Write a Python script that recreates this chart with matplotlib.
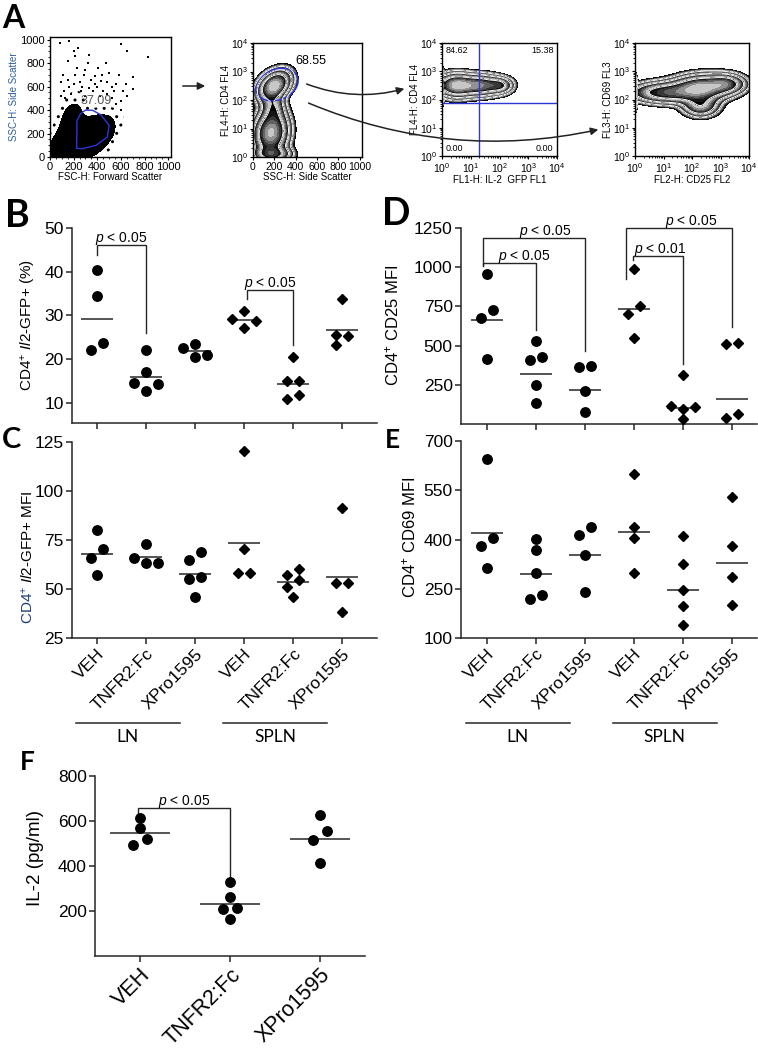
import numpy as np
import matplotlib
matplotlib.use("Agg")
import matplotlib.pyplot as plt
from matplotlib.patches import FancyArrowPatch, Polygon, Ellipse
from matplotlib.lines import Line2D
import matplotlib.ticker as mticker

plt.rcParams['font.family'] = ['Liberation Sans', 'DejaVu Sans']
plt.rcParams['mathtext.fontset'] = 'custom'
plt.rcParams['mathtext.rm'] = 'Liberation Sans'
plt.rcParams['mathtext.it'] = 'Liberation Sans:italic'
plt.rcParams['mathtext.bf'] = 'Liberation Sans:bold'
plt.rcParams['hatch.color'] = 'black'
plt.rcParams['hatch.linewidth'] = 1.0

# ---------------- data ----------------
groups = ["VEH", "TNFR2:Fc", "XPro1595", "VEH", "TNFR2:Fc", "XPro1595"]
group_marker = ["o", "o", "o", "D", "D", "D"]
tissues = ["LN", "SPLN"]

il2_gfp_pct = [[40.4, 34.4, 23.6, 22.0], [22.1, 17.1, 14.6, 14.3, 12.7],
               [23.4, 22.5, 21.0, 20.6], [31.1, 29.2, 28.7, 27.1],
               [20.6, 15.1, 15.1, 11.7, 10.8], [33.8, 25.5, 25.3, 23.3]]
il2_gfp_mfi = [[80.1, 70.3, 66.0, 57.1], [73.0, 66.0, 63.5, 63.5],
               [69.0, 65.0, 56.0, 55.0, 46.0], [120.4, 70.3, 58.4, 58.4],
               [60.2, 57.2, 54.6, 51.2, 46.1], [91.2, 53.1, 53.1, 38.1]]
cd25_mfi = [[954, 730, 676, 415], [528, 430, 410, 250, 136],
            [372, 366, 211, 79], [987, 751, 704, 550],
            [312, 115, 109, 94, 34], [518, 511, 62, 40]]
cd69_mfi = [[645, 406, 380, 312], [401, 367, 298, 232, 220],
            [439, 415, 352, 240], [601, 439, 406, 298],
            [410, 324, 245, 197, 139], [530, 380, 286, 200]]
f_groups = ["VEH", "TNFR2:Fc", "XPro1595"]
il2_pgml = [[614, 570, 521, 492], [329, 262, 215, 211, 166], [625, 555, 515, 415]]

# significance annotations: (group a, group b, label)
b_sig = [(0, 1, "$p$ < 0.05"), (3, 4, "$p$ < 0.05")]
d_sig = [(0, 2, "$p$ < 0.05"), (0, 1, "$p$ < 0.05"), (3, 5, "$p$ < 0.05"), (3, 4, "$p$ < 0.01")]
f_sig = [(0, 1, "$p$ < 0.05")]

# flow cytometry panel texts
gate_cd4_pct = "68.55"
lymph_gate_pct = "37.09"
quad_pct = ["84.62", "15.38", "0.00", "0.00"]
# smooth population components (cx, cy, sx, sy, rho, weight)
a1_pops = [(130, 70, 70, 85, 0.3, 1.0), (320, 160, 115, 100, 0.5, 1.0), (180, 300, 70, 120, 0.3, 0.3)]
a1_events = [(85, 975), (160, 985), (200, 900), (215, 860), (330, 870), (600, 965), (650, 900),
             (830, 850), (700, 680), (320, 800), (410, 760), (285, 700), (350, 660), (480, 640),
             (560, 620), (180, 540), (130, 500), (620, 560), (600, 480), (520, 500), (250, 640),
             (160, 600), (400, 600), (450, 560), (700, 580), (90, 640), (110, 700), (230, 760),
             (260, 560), (330, 590), (380, 690), (150, 820), (240, 930), (500, 720), (540, 560),
             (430, 650), (300, 520), (650, 520), (580, 700), (470, 800), (120, 560), (200, 620),
             (270, 600), (360, 560), (420, 520), (480, 540), (560, 450), (600, 400), (90, 520),
             (210, 700), (300, 740), (520, 600), (640, 620), (380, 620), (150, 660), (440, 700)]
a1_gate = [(225, 74), (228, 310), (260, 370), (300, 400), (360, 398), (430, 360), (500, 270),
           (485, 170), (390, 100), (270, 70)]
a2_pops = [(200, 2.5, 80, 0.28, 0.35, 1.0), (170, 0.85, 85, 0.42, 0.1, 0.9),
           (190, 1.75, 60, 0.3, 0.0, 0.3), (180, 0.1, 95, 0.15, 0.0, 0.45)]
a3_pops = [(0.5, 2.5, 0.35, 0.22, 0.0, 1.0), (1.3, 2.5, 0.4, 0.2, 0.0, 0.8),
           (2.0, 2.5, 0.25, 0.16, 0.0, 0.45), (0.02, 2.45, 0.03, 0.28, 0.0, 0.5)]
a4_pops = [(2.3, 2.4, 0.6, 0.25, 0.15, 1.0), (1.0, 2.25, 0.6, 0.2, 0.0, 0.55),
           (3.2, 2.55, 0.35, 0.18, 0.0, 0.5), (0.03, 2.25, 0.03, 0.3, 0.0, 0.4),
           (2.3, 1.8, 0.35, 0.22, 0.0, 0.35)]
quad_x, quad_y = 19.5, 78.0

# ---------------- layout helpers ----------------
W, H = 758, 1050
fig = plt.figure(figsize=(W / 100, H / 100), dpi=100)
INK = '#262626'


def add_ax(box):
    l, t, r, b = box
    return fig.add_axes([l / W, 1 - b / H, (r - l) / W, (b - t) / H])


def fx(px):
    return px / W


def fy(py):
    return 1 - py / H


def swarm(ypx, step, diam):
    ypx = np.asarray(ypx, float)
    order = list(np.argsort(ypx))
    clusters = [[order[0]]]
    for a, b in zip(order[:-1], order[1:]):
        if ypx[b] - ypx[a] < diam:
            clusters[-1].append(b)
        else:
            clusters.append([b])
    offs = np.zeros(len(ypx))
    for cl in clusters:
        placed = []
        for i in cl:
            for k in [0, 1, -1, 2, -2, 3, -3]:
                x = k * step
                if all(np.hypot(x - offs[j], ypx[i] - ypx[j]) >= diam for j in placed):
                    break
            offs[i] = x
            placed.append(i)
        c = (offs[cl].max() + offs[cl].min()) / 2
        offs[cl] -= c
    return offs


def style_dot_axes(ax):
    for s in ['top', 'right']:
        ax.spines[s].set_visible(False)
    for s in ['left', 'bottom']:
        ax.spines[s].set_linewidth(1.1)
        ax.spines[s].set_color(INK)
    ax.tick_params(direction='out', length=4.5, width=1.1, color=INK, labelsize=12.5, pad=1.5)


def dot_panel(box, vals, markers, xlim, ylim, yticks, step=12.0, diam=9.2, ms_o=6.8, ms_d=5.3):
    ax = add_ax(box)
    ax.set_xlim(*xlim)
    ax.set_ylim(*ylim)
    l, t, r, b = box
    ppx = (r - l) / (xlim[1] - xlim[0])
    ppy = (b - t) / (ylim[1] - ylim[0])
    for i, v in enumerate(vals):
        v = np.asarray(v, float)
        offs = swarm(v * ppy, step, diam) / ppx
        m = markers[i]
        ax.plot(i + offs, v, linestyle='none', marker=m, ms=ms_o if m == 'o' else ms_d,
                color='black', mec='black', clip_on=False, zorder=3)
        gm = np.exp(np.log(v).mean())
        ax.plot([i - 0.33, i + 0.33], [gm, gm], color=INK, lw=1.1, solid_capstyle='butt', zorder=2)
    ax.set_yticks(yticks)
    ax.set_xticks(range(len(vals)))
    style_dot_axes(ax)
    ax._ppx = ppx
    ax._ppy = ppy
    return ax


def bracket(ax, a, b, ybar, yl, yr, text, dx_text=0.0, dx_left=0.0, fs=10):
    xa = a + dx_left / ax._ppx
    ax.plot([xa, xa, b, b], [yl, ybar, ybar, yr], color=INK, lw=1.0, clip_on=False,
            solid_joinstyle='miter')
    ax.text((xa + b) / 2 + dx_text / ax._ppx, ybar + 3.0 / ax._ppy, text, ha='center',
            va='baseline', fontsize=fs, clip_on=False)


def tissue_labels(ax, box, xlim, ypx_line, ypx_text):
    l, t, r, b = box
    ppx = (r - l) / (xlim[1] - xlim[0])
    for k, name in enumerate(tissues):
        x0 = l + (3 * k - 0.43 - xlim[0]) * ppx
        x1 = l + (3 * k + 1.69 - xlim[0]) * ppx
        fig.add_artist(Line2D([fx(x0), fx(x1)], [fy(ypx_line), fy(ypx_line)],
                              transform=fig.transFigure, color=INK, lw=1.1))
        fig.text(fx((x0 + x1) / 2), fy(ypx_text), name, ha='center', va='center',
                 fontsize=12.5, family=['Lato', 'DejaVu Sans'])


# ---------------- panels B-F ----------------
B_box = (72, 228, 377, 423)
C_box = (72, 442, 377, 638)
D_box = (461, 228, 757, 424)
E_box = (461, 441, 757, 638)
F_box = (95, 776, 365, 956)
xl_left = (-0.51, 5.71)
xl_right = (-0.53, 5.51)

axB = dot_panel(B_box, il2_gfp_pct, group_marker, xl_left, (5.4, 50), [10, 20, 30, 40, 50])
axB.set_xticklabels([])
bracket(axB, 0, 1, 46.1, 43.8, 25.9, b_sig[0][2])
bracket(axB, 3, 4, 35.8, 33.7, 23.3, b_sig[1][2], dx_left=3)

axC = dot_panel(C_box, il2_gfp_mfi, group_marker, xl_left, (25, 125), [25, 50, 75, 100, 125])
axC.set_xticklabels(groups, rotation=45, ha='right', va='top', rotation_mode='anchor', fontsize=12.5)
tissue_labels(axC, C_box, xl_left, 722.7, 737)

axD = dot_panel(D_box, cd25_mfi, group_marker, xl_right, (0, 1250), [250, 500, 750, 1000, 1250])
axD.set_xticklabels([])
bracket(axD, 0, 2, 1186, 1014, 468, d_sig[0][2], dx_text=11, dx_left=-4)
bracket(axD, 0, 1, 1029, 1005, 597, d_sig[1][2], dx_text=15, dx_left=-4)
bracket(axD, 3, 5, 1250, 924, 618, d_sig[2][2], dx_text=12, dx_left=-8)
bracket(axD, 3, 4, 1072, 1046, 383, d_sig[3][2], dx_text=2, dx_left=-1)

axE = dot_panel(E_box, cd69_mfi, group_marker, xl_right, (100, 700), [100, 250, 400, 550, 700])
axE.set_xticklabels(groups, rotation=45, ha='right', va='top', rotation_mode='anchor', fontsize=12.5)
tissue_labels(axE, E_box, xl_right, 722.7, 737)

axF = dot_panel(F_box, il2_pgml, ["o", "o", "o"], (-0.5, 2.5), (0, 800), [200, 400, 600, 800],
                step=14.0)
axF.set_xticklabels(f_groups, rotation=45, ha='right', va='top', rotation_mode='anchor', fontsize=15.5)
bracket(axF, 0, 1, 659, 633, 344, f_sig[0][2], dx_left=-2)

ylab_fs = 11
fig.text(fx(28), fy(325), r"CD4$^{+}$ $\mathit{Il2}$-GFP+ (%)", rotation=90, ha='center', va='center', fontsize=ylab_fs)
# C label: "CD4+" part in dark blue, rest in black, placed end to end
renderer = fig.canvas.get_renderer()
t_cd4 = fig.text(fx(28), fy(624), r"CD4$^{+}$", rotation=90, ha='left', va='center',
                 rotation_mode='anchor', fontsize=ylab_fs, color='#1f3d7a')
ext = t_cd4.get_window_extent(renderer)
fig.text(fx(28), ext.y1 / H + 3.0 / H, r"$\mathit{Il2}$-GFP+ MFI", rotation=90, ha='left', va='center',
         rotation_mode='anchor', fontsize=ylab_fs)
fig.text(fx(392), fy(325), r"CD4$^{+}$ CD25 MFI", rotation=90, ha='center', va='center', fontsize=12)
fig.text(fx(409), fy(537), r"CD4$^{+}$ CD69 MFI", rotation=90, ha='center', va='center', fontsize=12)
fig.text(fx(36), fy(858), "IL-2 (pg/ml)", rotation=90, ha='center', va='center', fontsize=13.5)

# ---------------- panel A (flow cytometry) ----------------
BLUE = '#2b36d9'


def density(GX, GY, comps):
    Z = np.zeros_like(GX, dtype=float)
    for (cx, cy, sx, sy, rho, w) in comps:
        dx = (GX - cx) / sx
        dy = (GY - cy) / sy
        Z += w * np.exp(-(dx * dx - 2 * rho * dx * dy + dy * dy) / (2 * (1 - rho ** 2)))
    return Z / Z.max()


def zebra(ax, X, Y, Z, dmin=0.01, nb=4, per=6):
    lv = np.geomspace(dmin, 1.0, nb * per + 1)
    lv[-1] = 1.01
    cols = [str(round(0.78 * ((k % per) / (per - 1)) ** 1.4, 3)) for k in range(nb * per)]
    ax.contourf(X, Y, Z, levels=lv, colors=cols)
    ax.contour(X, Y, Z, levels=lv[per::per][:-1], colors='white', linewidths=0.7)


def flow_style(ax, fs=7.5):
    for s in ax.spines.values():
        s.set_linewidth(1.0)
        s.set_color('black')
    ax.tick_params(which='major', direction='out', length=2.5, width=0.8, labelsize=fs, pad=1)
    ax.tick_params(which='minor', direction='out', length=1.5, width=0.6)


def log_ticks(axis):
    axis.set_major_locator(mticker.LogLocator(base=10, numticks=10))
    axis.set_minor_locator(mticker.LogLocator(base=10, subs=np.arange(2, 10), numticks=10))
    axis.set_minor_formatter(mticker.NullFormatter())


A1_box = (50, 37, 171, 157)
A2_box = (253, 43, 362, 157)
A3_box = (442, 43, 557, 156)
A4_box = (635, 43, 749, 156)

# A1: dot plot FSC/SSC
ax1 = add_ax(A1_box)
gx = np.linspace(0, 1023, 300)
GX, GY = np.meshgrid(gx, gx)
Z1 = density(GX, GY, a1_pops)
ax1.contourf(GX, GY, Z1, levels=[0.02, 0.1], colors='none', hatches=['..'])
ax1.contourf(GX, GY, Z1, levels=[0.1, 1.01], colors='black')
ex, ey = zip(*a1_events)
ax1.plot(ex, ey, 's', ms=1.5, color='black', mew=0)
ax1.add_patch(Polygon(a1_gate, closed=True, fill=False, edgecolor=BLUE, lw=1.0))
ax1.text(390, 480, lymph_gate_pct, color='#555555', fontsize=9, ha='center', va='center')
ax1.set_xlim(0, 1023)
ax1.set_ylim(0, 1023)
ax1.set_xticks(range(0, 1001, 200))
ax1.set_yticks(range(0, 1001, 200))
ax1.xaxis.set_minor_locator(mticker.MultipleLocator(50))
ax1.yaxis.set_minor_locator(mticker.MultipleLocator(50))
flow_style(ax1, 8)
ax1.set_xlabel("FSC-H: Forward Scatter", fontsize=7, labelpad=0)
ax1.set_ylabel("SSC-H: Side Scatter", fontsize=7, labelpad=1, color='#2e5f9e')

# A2: SSC vs CD4
ax2 = add_ax(A2_box)
gx2 = np.linspace(0, 1023, 300)
gl2 = np.linspace(0, 4, 300)
GX2, GL2 = np.meshgrid(gx2, gl2)
Z2 = density(GX2, GL2, a2_pops)
zebra(ax2, GX2, 10 ** GL2, Z2, dmin=0.02)
ax2.set_yscale('log')
ax2.set_xlim(0, 1023)
ax2.set_ylim(1, 1e4)
ax2.set_xticks(range(0, 1001, 200))
log_ticks(ax2.yaxis)
ax2.add_patch(Ellipse((0.22, 0.635), 0.40, 0.27, angle=18, transform=ax2.transAxes,
                      fill=False, edgecolor=BLUE, lw=1.0))
ax2.text(0.53, 0.84, gate_cd4_pct, transform=ax2.transAxes, fontsize=9, ha='center', va='center')
flow_style(ax2, 7.5)
ax2.set_xlabel("SSC-H: Side Scatter", fontsize=7, labelpad=0)
ax2.set_ylabel("FL4-H: CD4 FL4", fontsize=7, labelpad=0)

# A3: IL-2 GFP vs CD4
ax3 = add_ax(A3_box)
gl = np.linspace(0, 4, 300)
GL3X, GL3Y = np.meshgrid(gl, gl)
Z3 = density(GL3X, GL3Y, a3_pops)
zebra(ax3, 10 ** GL3X, 10 ** GL3Y, Z3, dmin=0.02)
ax3.set_xscale('log')
ax3.set_yscale('log')
ax3.set_xlim(1, 1e4)
ax3.set_ylim(1, 1e4)
log_ticks(ax3.xaxis)
log_ticks(ax3.yaxis)
ax3.axvline(quad_x, color=BLUE, lw=1.0)
ax3.axhline(quad_y, color=BLUE, lw=1.0)
qpos = [(0.03, 0.93, 'left'), (0.97, 0.93, 'right'), (0.03, 0.07, 'left'), (0.97, 0.07, 'right')]
for (qx, qy, ha), s in zip(qpos, quad_pct):
    ax3.text(qx, qy, s, transform=ax3.transAxes, fontsize=6.5, ha=ha, va='center')
flow_style(ax3, 7.5)
ax3.set_xlabel("FL1-H: IL-2  GFP FL1", fontsize=7, labelpad=0)
ax3.set_ylabel("FL4-H: CD4 FL4", fontsize=7, labelpad=0)

# A4: CD25 vs CD69
ax4 = add_ax(A4_box)
Z4 = density(GL3X, GL3Y, a4_pops)
zebra(ax4, 10 ** GL3X, 10 ** GL3Y, Z4, dmin=0.02)
ax4.set_xscale('log')
ax4.set_yscale('log')
ax4.set_xlim(1, 1e4)
ax4.set_ylim(1, 1e4)
log_ticks(ax4.xaxis)
log_ticks(ax4.yaxis)
flow_style(ax4, 7.5)
ax4.set_xlabel("FL2-H: CD25 FL2", fontsize=7, labelpad=0)
ax4.set_ylabel("FL3-H: CD69 FL3", fontsize=7, labelpad=0)


# arrows
def arrow(p0, p1, rad):
    a = FancyArrowPatch((fx(p0[0]), fy(p0[1])), (fx(p1[0]), fy(p1[1])),
                        transform=fig.transFigure, arrowstyle='-|>', mutation_scale=11,
                        connectionstyle=f"arc3,rad={rad}", color='#222222', lw=1.1)
    fig.add_artist(a)


arrow((180, 86), (208, 86), 0.0)
arrow((304, 83), (407, 88), 0.17)
arrow((306, 102), (601, 129), 0.16)

# panel letters
letter_font = ['Lato', 'DejaVu Sans']
for lab, x, y, s in [("A", 2, 28, 23), ("B", 5, 227, 27), ("C", 2, 448, 21),
                     ("D", 382, 225, 27), ("E", 385, 448, 19), ("F", 20, 770, 19)]:
    fig.text(fx(x), fy(y), lab, fontsize=s, fontweight='bold', family=letter_font,
             ha='left', va='baseline')

fig.savefig("out.png", dpi=100)
